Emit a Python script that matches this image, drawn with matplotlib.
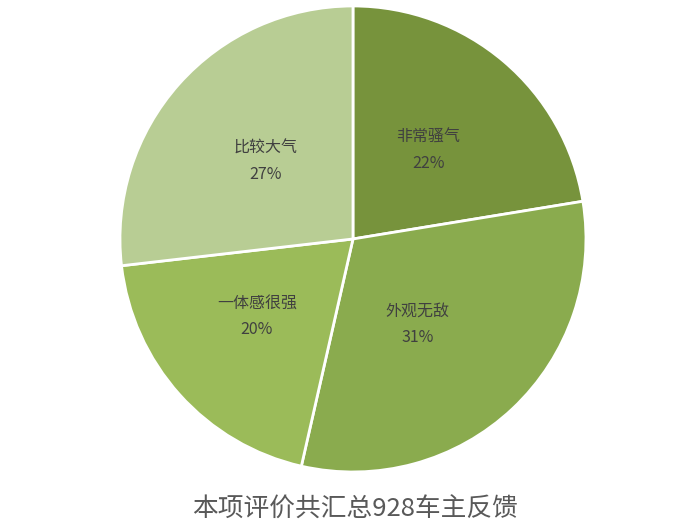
import numpy as np
import matplotlib.pyplot as plt

plt.rcParams['font.family'] = ['Noto Sans CJK SC', 'DejaVu Sans']

# slice data, clockwise from 12 o'clock (estimated counts out of 928)
names = ['非常骚气', '外观无敌', '一体感很强', '比较大气']
counts = [208, 289, 182, 249]
pct_labels = ['22%', '31%', '20%', '27%']
colors = ['#77933c', '#8aab4e', '#9bbb59', '#b8cd94']
title = '本项评价共汇总928车主反馈'

# label placement tweaks (radius fraction, angle shift in degrees)
label_r = [0.5, 0.46, 0.53, 0.5]
label_shift = [0, -6, -3, 0]

fig = plt.figure(figsize=(7, 5.28), dpi=100)
ax = fig.add_axes([0.1714, 0.1061, 0.6657, 0.8826])

wedges, _ = ax.pie(counts, colors=colors, startangle=90, counterclock=False,
                   radius=1, wedgeprops=dict(edgecolor='white', linewidth=2))

for w, name, p, r, sh in zip(wedges, names, pct_labels, label_r, label_shift):
    mid = np.deg2rad((w.theta1 + w.theta2) / 2 + sh)
    ax.text(r * np.cos(mid), r * np.sin(mid), f'{name}\n{p}',
            ha='center', va='center', fontsize=11.5, color='#404040',
            linespacing=1.7)

ax.set_xlim(-1, 1)
ax.set_ylim(-1, 1)
ax.set_aspect('equal')
ax.axis('off')

fig.text(0.507, 0.034, title, ha='center', va='center', fontsize=18.5,
         color='#595959')

fig.savefig('out.png', dpi=100)
